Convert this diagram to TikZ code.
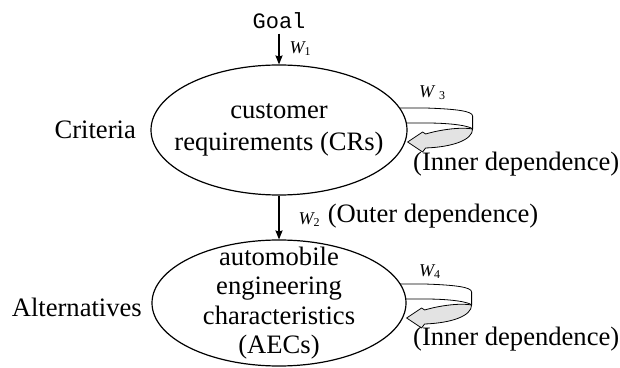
\documentclass[tikz,border=0pt]{standalone}
\usepackage{fontspec}
\setmainfont{Liberation Serif}
\setmonofont{Liberation Mono}
\usepackage{tikz}
\usetikzlibrary{arrows.meta,positioning,calc,shapes.geometric,backgrounds}
\tikzset{
  >=Stealth,
  every picture/.append style={line width=0.6pt},
}
\tikzset{
  blob/.style={ellipse, draw, fill=white, inner sep=0pt},
  band/.style={draw, fill=white, line join=round},
  backflow/.style={draw, fill=gray!22, line join=round}
}

\begin{document}
\begin{tikzpicture}[
  x=0.5pt, y=-0.5pt,
  txt/.style={font=\fontsize{13.3}{16}\selectfont, inner sep=0pt, align=center},
  wlbl/.style={font=\fontsize{9}{10}\selectfont\itshape, inner sep=0pt},
  arrow/.style={-{Stealth[length=4.5pt, width=3.6pt, inset=0.6pt]}}
]
\useasboundingbox (0,0) rectangle (620,368);

% ============= Goal =============
\node[font=\fontsize{11}{12}\selectfont\ttfamily, inner sep=2pt] (goal) at (279,21) {Goal};

% ============= Criteria =============
\node[blob, minimum width=128pt, minimum height=65pt] (cr) at (279,130) {};
\node[txt] (crtext) at (cr.center) {customer\\requirements (CRs)};
\node[txt, left=7pt of cr] (crit) {Criteria};

% ============= Alternatives =============
\node[blob, minimum width=127pt, minimum height=63pt] (aec) at (279,303) {};
\node[txt, font=\fontsize{13.3}{14.7}\selectfont] (aectext) at (aec.center)
  {automobile\\engineering\\characteristics\\(AECs)};
\node[txt, left=4.5pt of aec, yshift=-2pt] (alt) {Alternatives};

% weights between levels
\draw[arrow] (goal) -- node[wlbl, right=5pt] (w1) {W\textsubscript{\upshape 1}} (cr);
\draw[arrow] (cr) -- node[wlbl, right=9.5pt, yshift=-1pt] (w2) {W\textsubscript{\upshape 2}} (aec);
\node[txt, right=3pt of w2, yshift=1.5pt] (outer) {(Outer dependence)};

% ============= Self loops =============
\begin{scope}[on background layer]
\foreach \e/\dy in {cr/0, aec/3} {
  \begin{scope}[shift={($(\e.east)+(0,\dy)$)}]
    \path[band] (-12,-22) -- (18,-22) .. controls (48,-21) and (65,-19) .. (65,-14)
      -- (65,-1) .. controls (62,-4) and (45,-7) .. (18,-7) -- (-12,-7) -- cycle;
    \path[backflow] (65,-1) .. controls (55,-3) and (35,-1) .. (18,4) -- (15,2)
      -- (0,12) -- (15,22) -- (18,18) .. controls (45,17) and (65,10) .. (65,-1) -- cycle;
  \end{scope}
}
\end{scope}

\node[wlbl, anchor=west] (w3) at ($(cr.east)+(11,-37)$) {W\hspace{2.5pt}\textsubscript{\upshape 3}};
\node[txt, anchor=west] (inner1) at ($(cr.east)+(5,34)$) {(Inner dependence)};
\node[wlbl, anchor=west] (w4) at ($(aec.east)+(12,-31)$) {W\textsubscript{\upshape 4}};
\node[txt, anchor=west] (inner2) at ($(aec.east)+(6,36.5)$) {(Inner dependence)};

\end{tikzpicture}
\end{document}
